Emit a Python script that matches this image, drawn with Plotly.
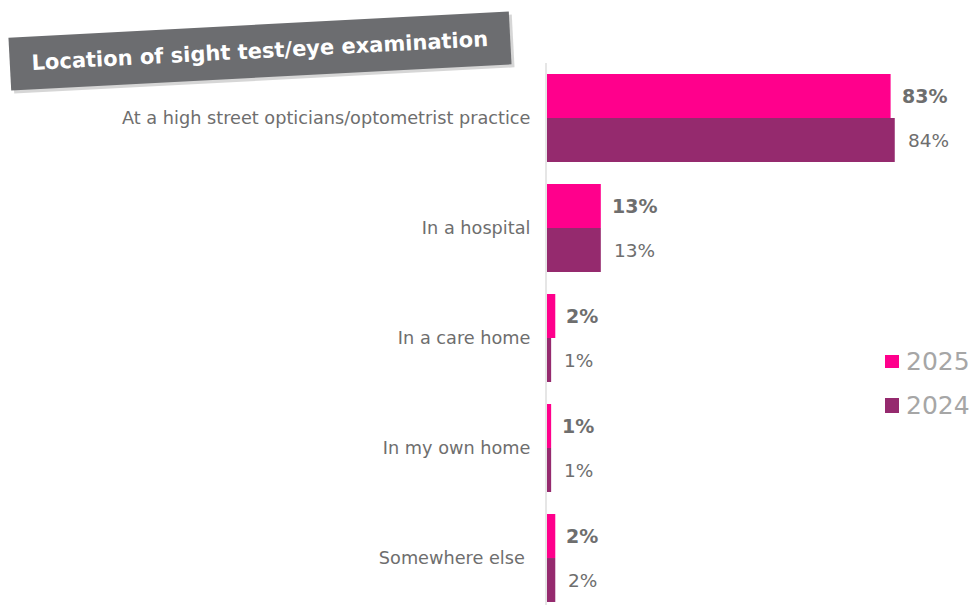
import plotly.graph_objects as go

# data
categories = ['At a high street opticians/optometrist practice', 'In a hospital',
              'In a care home', 'In my own home', 'Somewhere else\u00a0']
vals_2025 = [83, 13, 2, 1, 2]
vals_2024 = [84, 13, 1, 1, 2]
series_names = ['2025', '2024']

pink = '#FF008C'
purple = '#952A6E'
label_grey = '#6E6E6E'
font_family = 'DejaVu Sans, Verdana, sans-serif'

fig = go.Figure()

fig.add_trace(go.Bar(
    y=categories, x=vals_2025, name=series_names[0], orientation='h',
    marker_color=pink, marker_line_width=0,
))
fig.add_trace(go.Bar(
    y=categories, x=vals_2024, name=series_names[1], orientation='h',
    marker_color=purple, marker_line_width=0,
))

# value labels (bold for 2025, regular for 2024)
n = len(categories)
for i, cat in enumerate(categories):
    fig.add_annotation(x=vals_2025[i], y=i - 0.2, xref='x', yref='y',
                       text='<b>%d%%</b>' % vals_2025[i], showarrow=False,
                       xanchor='left', yanchor='middle', xshift=9,
                       font=dict(size=19, color=label_grey, family=font_family))
    fig.add_annotation(x=vals_2024[i], y=i + 0.2, xref='x', yref='y',
                       text='%d%%' % vals_2024[i], showarrow=False,
                       xanchor='left', yanchor='middle', xshift=11,
                       font=dict(size=18.5, color=label_grey, family=font_family))

# title box with shadow
title = '\u00a0Location of sight test/eye examination\u00a0'
fig.add_annotation(x=-0.693, y=1.022, xref='paper', yref='paper', text='<b>' + title + '</b>',
                   showarrow=False, textangle=-3, xanchor='center', yanchor='middle',
                   bgcolor='rgba(0,0,0,0.16)', borderpad=14, xshift=3, yshift=-3,
                   font=dict(size=21, color='rgba(0,0,0,0)', family=font_family))
fig.add_annotation(x=-0.693, y=1.022, xref='paper', yref='paper', text='<b>' + title + '</b>',
                   showarrow=False, textangle=-3, xanchor='center', yanchor='middle',
                   bgcolor='#6C6D70', borderpad=14,
                   font=dict(size=21, color='white', family=font_family))

# legend drawn by hand (a plotly legend would push the right margin)
legend_rows = [(series_names[0], pink, 0.4613, 0.4373, 0.4493),
               (series_names[1], purple, 0.3819, 0.3542, 0.3681)]
for name, col, y0, y1, ymid in legend_rows:
    fig.add_shape(type='rect', xref='paper', yref='paper', x0=0.8164, x1=0.8502,
                  y0=y0, y1=y1, fillcolor=col, line_width=0)
    fig.add_annotation(x=0.8623, y=ymid, xref='paper', yref='paper', text=name,
                       showarrow=False, xanchor='left', yanchor='middle',
                       font=dict(size=25, color='#A6A6A6', family=font_family))

fig.update_layout(
    width=975, height=605,
    margin=dict(l=547, r=14, t=63, b=0),
    barmode='group', bargap=0.2, bargroupgap=0,
    plot_bgcolor='white', paper_bgcolor='white',
    showlegend=False,
    font=dict(family=font_family, color=label_grey),
    xaxis=dict(range=[0, 100], visible=False),
    yaxis=dict(range=[n - 0.573, -0.5], showline=True, linecolor='#E6E6E6', linewidth=2,
               showgrid=False, ticks='', ticklabelstandoff=11,
               tickfont=dict(size=17.7, color=label_grey, family=font_family)),
)

# drop the default page margin so the figure fills the window
fig.write_html('out.html', config={'displayModeBar': False},
               post_script="document.body.style.margin='0';")
